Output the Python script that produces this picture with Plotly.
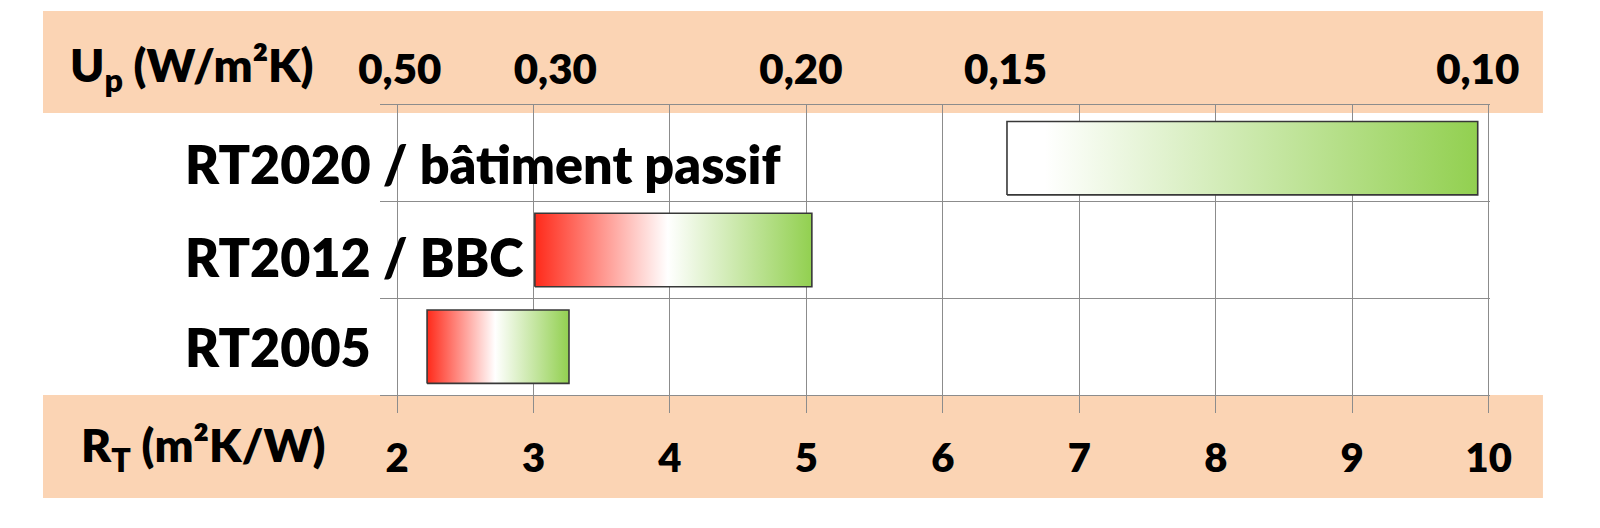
import plotly.graph_objects as go

# ---- data ----
categories = ["RT2005", "RT2012 / BBC", "RT2020 / bâtiment passif"]
r_start = [2.22, 3.01, 6.47]
r_end = [3.26, 5.04, 9.92]
gradients = [
    [[0.0, "#FF2A1A"], [0.48, "#FFFFFF"], [1.0, "#92D050"]],
    [[0.0, "#FF2A1A"], [0.48, "#FFFFFF"], [1.0, "#92D050"]],
    [[0.0, "#FFFFFF"], [0.08, "#FFFFFF"], [1.0, "#92D050"]],
]
rt_ticks = [2, 3, 4, 5, 6, 7, 8, 9, 10]
up_tick_positions = [2.02, 3.16, 4.96, 6.46, 9.92]
up_tick_labels = ["0,50", "0,30", "0,20", "0,15", "0,10"]

FONT = "Lato"
W = 800
GRID = "#8C8C8C"
BAND = "#FBD4B4"
BAR_W = 0.76
bar_shift = [0.0, 0.0, -0.05]  # small vertical offsets of the drawn bars (layout only)

fig = go.Figure()

for i, cat in enumerate(categories):
    x0, x1 = r_start[i], r_end[i]
    yc = i + bar_shift[i]
    y0, y1 = yc - BAR_W / 2, yc + BAR_W / 2
    fig.add_trace(go.Scatter(
        x=[x0, x1, x1, x0, x0],
        y=[y0, y0, y1, y1, y0],
        mode="lines",
        fill="toself",
        fillgradient=dict(type="horizontal", colorscale=gradients[i]),
        line=dict(color="#383838", width=1.6),
        name=cat,
        showlegend=False,
        hoverinfo="skip",
    ))

# dummy trace to activate the top axis
fig.add_trace(go.Scatter(
    x=up_tick_positions, y=[None] * len(up_tick_positions),
    xaxis="x2", mode="markers", showlegend=False, hoverinfo="skip",
))

XR = [1.875, 10.01]

fig.update_layout(
    width=1600, height=528,
    margin=dict(l=372, r=118, t=97, b=141),
    paper_bgcolor="white",
    plot_bgcolor="rgba(0,0,0,0)",
    font=dict(family=FONT, color="black"),
    xaxis=dict(
        range=XR, tickvals=rt_ticks, ticktext=[str(v) for v in rt_ticks],
        showgrid=True, gridcolor=GRID, gridwidth=1,
        showline=True, linecolor=GRID, linewidth=1, mirror=True,
        ticks="outside", ticklen=17, tickcolor=GRID, tickwidth=1,
        tickfont=dict(family=FONT, size=40, weight=W, color="black"),
        zeroline=False, ticklabelstandoff=11,
    ),
    xaxis2=dict(
        range=XR, overlaying="x", side="top",
        tickvals=up_tick_positions, ticktext=up_tick_labels,
        showgrid=False, showline=False, ticks="", zeroline=False,
        tickfont=dict(family=FONT, size=42, weight=W, color="black"),
        ticklabelstandoff=12,
    ),
    yaxis=dict(
        range=[-0.5, 2.5], tickvals=[0.5, 1.5], showticklabels=False,
        showgrid=True, gridcolor=GRID, gridwidth=1,
        showline=False, zeroline=False, ticks="",
    ),
)

# peach bands behind the axis labels
fig.add_shape(type="rect", xref="paper", yref="paper",
              x0=-0.3036, x1=1.0477, y0=0.9724, y1=1.324,
              fillcolor=BAND, line=dict(width=0), layer="below")
fig.add_shape(type="rect", xref="paper", yref="paper",
              x0=-0.3036, x1=1.0477, y0=-0.355, y1=0.0,
              fillcolor=BAND, line=dict(width=0), layer="below")

# axis titles in the bands
fig.add_annotation(xref="paper", yref="paper", x=-0.281, y=1.127,
                   xanchor="left", yanchor="middle", showarrow=False,
                   text="U<sub>p</sub> (W/m²K)",
                   font=dict(family=FONT, size=46, weight=W, color="black"))
fig.add_annotation(xref="paper", yref="paper", x=-0.271, y=-0.183,
                   xanchor="left", yanchor="middle", showarrow=False,
                   text="R<sub>T</sub> (m²K/W)",
                   font=dict(family=FONT, size=46, weight=W, color="black"))

# category labels
label_shift = [0, -7, -11]
for i, cat in enumerate(categories):
    fig.add_annotation(xref="paper", yref="y", x=-0.1775, y=i,
                       xanchor="left", yanchor="middle", showarrow=False,
                       yshift=label_shift[i],
                       text=cat,
                       font=dict(family=FONT, size=52, weight=W, color="black"))

fig.write_html("out.html")
